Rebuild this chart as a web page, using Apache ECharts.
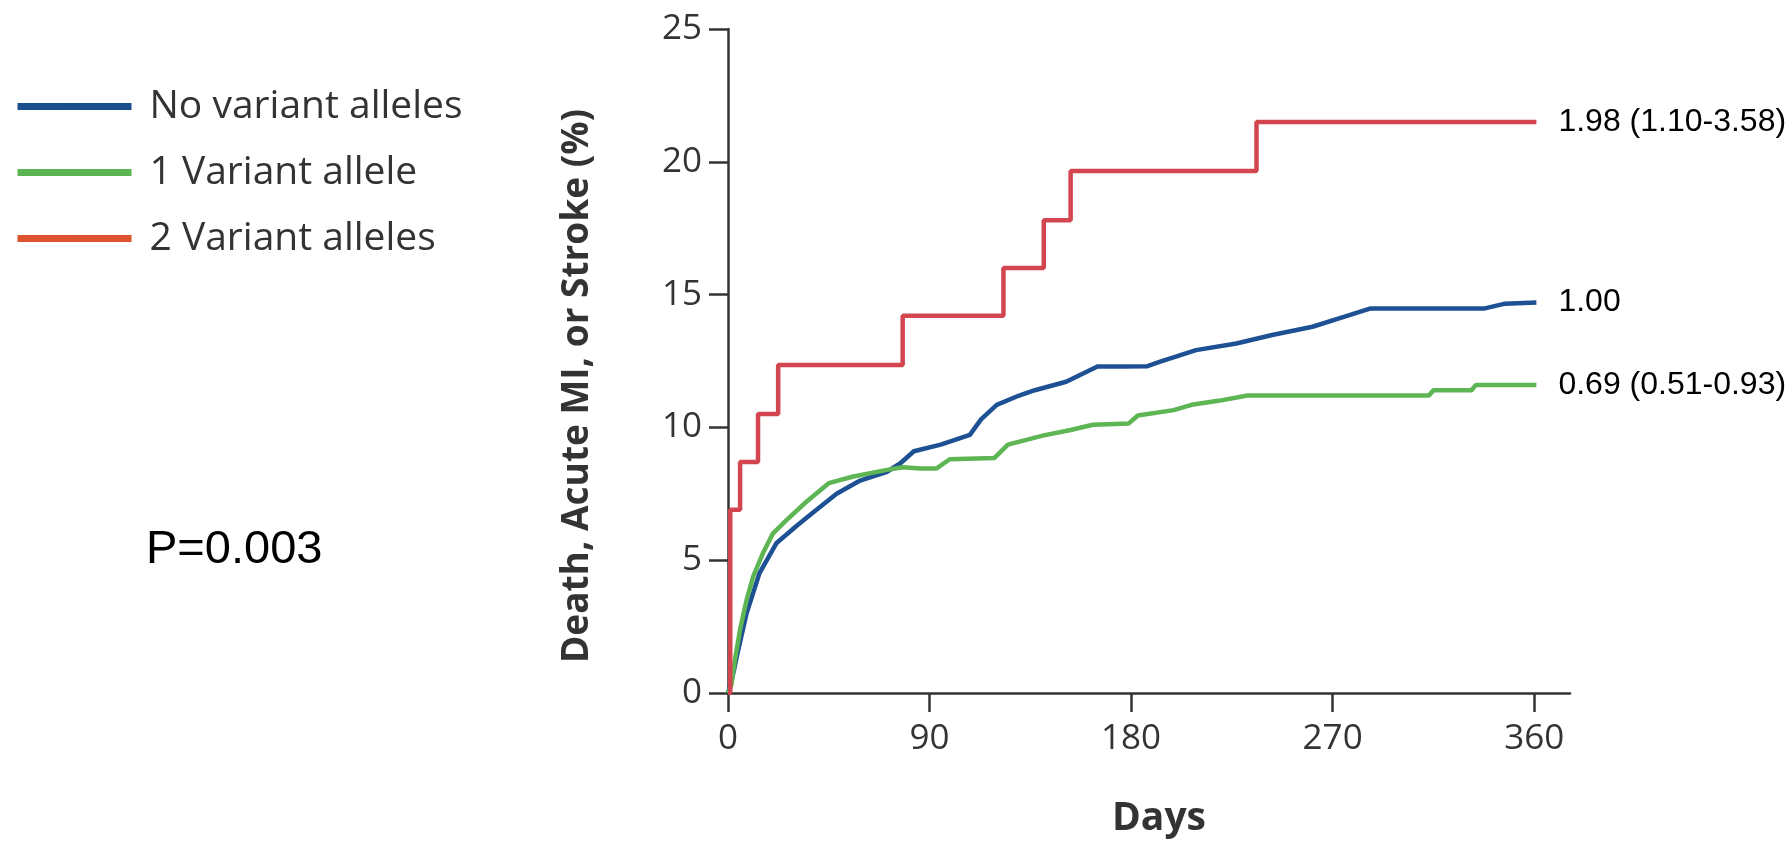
<!DOCTYPE html>
<html>
<head>
<meta charset="utf-8">
<script src="https://cdn.jsdelivr.net/npm/echarts@6/dist/echarts.min.js"></script>
<style>
  html, body { margin: 0; padding: 0; background: #ffffff; }
  #chart { width: 1792px; height: 844px; }
</style>
</head>
<body>
<div id="chart"></div>
<script>
// ---- Data (days, cumulative % of death, acute MI, or stroke) ----
const seriesNames = ['No variant alleles', '1 Variant allele', '2 Variant alleles'];
const hazardLabels = ['1.00', '0.69 (0.51-0.93)', '1.98 (1.10-3.58)'];
const xTickValues = [0, 90, 180, 270, 360];

const noVariant = [
  [0, 0], [2, 0.6], [4, 1.4], [8.3, 3.0], [14, 4.5], [21.7, 5.65], [30.7, 6.3], [38, 6.8],
  [48.5, 7.5], [59, 8.0], [71, 8.33], [77, 8.65], [83, 9.1], [95, 9.35], [108, 9.72],
  [113, 10.3], [120, 10.85], [130, 11.2], [137, 11.4], [151, 11.72], [165, 12.29],
  [177, 12.29], [187, 12.3], [193, 12.48], [209, 12.91], [227, 13.16], [243, 13.48],
  [261, 13.79], [275, 14.16], [287, 14.48], [338, 14.48], [347, 14.66], [361, 14.7]
];
const oneVariant = [
  [0, 0], [1.5, 0.3], [3, 1.2], [5.4, 2.4], [8.3, 3.5], [11.3, 4.4], [15.8, 5.3], [20, 6.0],
  [26, 6.5], [35, 7.2], [45, 7.9], [56, 8.15], [71, 8.4], [78, 8.5], [86, 8.45], [93, 8.45],
  [99, 8.8], [119, 8.85], [125, 9.35], [141, 9.7], [153, 9.9], [163, 10.1], [179, 10.15],
  [183, 10.45], [199, 10.65], [207, 10.85], [219, 11.0], [232, 11.2], [313, 11.2],
  [315, 11.4], [332, 11.4], [334, 11.6], [361, 11.6]
];
const twoVariants = [
  [0, 0], [1, 6.9], [5.4, 8.7], [13.4, 10.5], [22.4, 12.35], [78, 14.2], [123, 16.0],
  [141, 17.8], [153, 19.65], [236, 21.5], [361, 21.5]
];

// ---- Styles ----
const lineColors = ['#1d5193', '#5db553', '#d4464f'];
const legendColors = ['#1a4e8e', '#5ab552', '#dc532c'];
const axisFont = 'Open Sans';
const labelFont = 'Liberation Sans';

const chart = echarts.init(document.getElementById('chart'));
const dataSets = [noVariant, oneVariant, twoVariants];

const series = dataSets.map((d, i) => ({
  name: seriesNames[i],
  type: 'line',
  data: d,
  symbol: 'none',
  step: i === 2 ? 'end' : false,
  lineStyle: { color: lineColors[i], width: 4.5 },
  itemStyle: { color: lineColors[i] },
  z: i === 2 ? 3 : 2,
  endLabel: {
    show: true,
    formatter: hazardLabels[i],
    distance: 22,
    color: '#000',
    fontFamily: labelFont,
    fontSize: 32
  },
  animation: false
}));

chart.setOption({
  animation: false,
  backgroundColor: '#ffffff',
  grid: { left: 728, right: 222, top: 29, bottom: 151, containLabel: false },
  title: {
    text: 'P=0.003',
    left: 141,
    top: 522,
    textStyle: { fontFamily: labelFont, fontSize: 47, fontWeight: 'normal', color: '#000' }
  },
  legend: {
    orient: 'vertical',
    left: 9,
    top: 82,
    itemWidth: 114,
    itemHeight: 8,
    itemGap: 27,
    icon: 'inherit',
    textStyle: { fontFamily: axisFont, fontSize: 39, color: '#333', padding: [0, 0, 0, 13] },
    data: seriesNames.map((n, i) => ({
      name: n,
      lineStyle: { color: legendColors[i], width: 7 },
      itemStyle: { color: legendColors[i] }
    }))
  },
  xAxis: {
    type: 'value',
    min: 0,
    max: 376,
    name: 'Days',
    nameLocation: 'middle',
    nameGap: 106,
    nameTextStyle: { fontFamily: axisFont, fontSize: 39, fontWeight: 'bold', color: '#333', padding: [0, 0, 0, 20] },
    axisLine: { lineStyle: { color: '#333', width: 2.5 } },
    axisTick: { show: true, length: 19, lineStyle: { color: '#333', width: 2.5 }, customValues: xTickValues },
    axisLabel: { margin: 29, fontFamily: axisFont, fontSize: 35, color: '#333', customValues: xTickValues },
    splitLine: { show: false }
  },
  yAxis: {
    type: 'value',
    min: 0,
    max: 25,
    interval: 5,
    name: 'Death, Acute MI, or Stroke (%)',
    nameLocation: 'middle',
    nameGap: 132,
    nameTextStyle: { fontFamily: axisFont, fontSize: 37, fontWeight: 'bold', color: '#333', padding: [0, 50, 0, 0] },
    axisLine: { show: true, lineStyle: { color: '#333', width: 2.5 } },
    axisTick: { show: true, length: 19, lineStyle: { color: '#333', width: 2.5 } },
    axisLabel: { margin: 26, fontFamily: axisFont, fontSize: 35, color: '#333' },
    splitLine: { show: false }
  },
  series: series
});
</script>
</body>
</html>
